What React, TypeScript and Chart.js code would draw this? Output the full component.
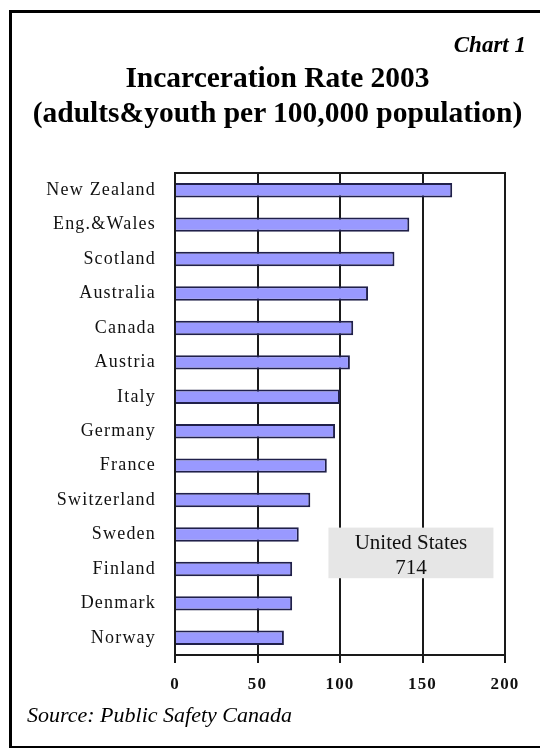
import React, { useEffect, useRef } from "react";
import { Chart, registerables } from "chart.js";

Chart.register(...registerables);

const countries = [
  "New Zealand",
  "Eng.&Wales",
  "Scotland",
  "Australia",
  "Canada",
  "Austria",
  "Italy",
  "Germany",
  "France",
  "Switzerland",
  "Sweden",
  "Finland",
  "Denmark",
  "Norway",
];
const rates = [168, 142, 133, 117, 108, 106, 100, 97, 92, 82, 75, 71, 71, 66];
const xTickValues = [0, 50, 100, 150, 200];

const chartLabel = "Chart 1";
const titleLines = ["Incarceration Rate 2003", "(adults&youth per 100,000 population)"];
const sourceText = "Source: Public Safety Canada";
const noteLabel = "United States";
const noteValue = 714;

const serif = '"Liberation Serif", "Times New Roman", serif';

const framePlugin = {
  id: "frame",
  beforeDatasetsDraw(chart: any) {
    const { ctx, chartArea } = chart;
    ctx.save();
    ctx.strokeStyle = "#1a1a1a";
    ctx.lineWidth = 2;
    ctx.beginPath();
    ctx.moveTo(chartArea.left, chartArea.top);
    ctx.lineTo(chartArea.right, chartArea.top);
    ctx.lineTo(chartArea.right, chartArea.bottom);
    ctx.stroke();
    ctx.restore();
  },
};

const spacingPlugin = {
  id: "spacing",
  beforeDraw(chart: any) {
    chart.ctx.letterSpacing = "1.2px";
  },
};

const notePlugin = {
  id: "note",
  afterDatasetsDraw(chart: any) {
    const { ctx, scales } = chart;
    const x0 = scales.x.getPixelForValue(93);
    const x1 = scales.x.getPixelForValue(193);
    const y0 = scales.y.getPixelForValue(9.8);
    const y1 = scales.y.getPixelForValue(11.27);
    ctx.save();
    ctx.letterSpacing = "0px";
    ctx.fillStyle = "#e6e6e6";
    ctx.fillRect(x0, y0, x1 - x0, y1 - y0);
    ctx.fillStyle = "#111";
    ctx.font = `21px ${serif}`;
    ctx.textAlign = "center";
    ctx.textBaseline = "alphabetic";
    const cx = (x0 + x1) / 2;
    ctx.fillText(noteLabel, cx, y0 + 21);
    ctx.fillText(String(noteValue), cx, y0 + 46);
    ctx.restore();
  },
};

function BarChart() {
  const ref = useRef<HTMLCanvasElement | null>(null);
  useEffect(() => {
    if (!ref.current) return;
    const chart = new Chart(ref.current, {
      type: "bar",
      data: {
        labels: countries,
        datasets: [
          {
            data: rates,
            backgroundColor: "#9999ff",
            borderColor: "#20204a",
            borderWidth: 2,
            barPercentage: 0.42,
            categoryPercentage: 1,
          },
        ],
      },
      options: {
        indexAxis: "y",
        responsive: false,
        animation: false,
        layout: { padding: { top: 173, left: 0, right: 35, bottom: 0 } },
        plugins: {
          legend: { display: false },
          tooltip: { enabled: false },
          title: { display: false },
        },
        scales: {
          x: {
            type: "linear",
            min: 0,
            max: 200,
            afterBuildTicks: (s: any) => {
              s.ticks = xTickValues.map((v) => ({ value: v }));
            },
            afterFit: (s: any) => {
              s.height = 93;
            },
            grid: {
              display: true,
              color: "#1a1a1a",
              lineWidth: 2,
              drawTicks: true,
              tickLength: 8,
              tickColor: "#1a1a1a",
            },
            border: { display: true, color: "#1a1a1a", width: 2 },
            ticks: {
              color: "#111",
              padding: 11,
              font: { family: serif, size: 17, weight: "bold" },
              maxRotation: 0,
            },
          },
          y: {
            type: "category",
            afterFit: (s: any) => {
              s.width = 175;
            },
            grid: { display: false, drawTicks: false },
            border: { display: true, color: "#1a1a1a", width: 2 },
            ticks: {
              color: "#111",
              padding: 19,
              font: { family: serif, size: 18 },
              autoSkip: false,
            },
          },
        },
      },
      plugins: [spacingPlugin, framePlugin, notePlugin],
    });
    return () => chart.destroy();
  }, []);
  return (
    <canvas
      ref={ref}
      width={540}
      height={748}
      style={{ position: "fixed", left: 0, top: 0, width: 540, height: 748 }}
    />
  );
}

export default function App() {
  return (
    <div>
      <div
        style={{
          position: "fixed",
          left: 9,
          top: 10,
          width: 540,
          height: 739,
          border: "3px solid #000",
          boxSizing: "border-box",
        }}
      />
      <div
        style={{
          position: "fixed",
          right: 14,
          top: 34,
          fontFamily: serif,
          fontWeight: "bold",
          fontStyle: "italic",
          fontSize: 23,
          lineHeight: "22px",
          color: "#000",
          whiteSpace: "nowrap",
        }}
      >
        {chartLabel}
      </div>
      <div
        style={{
          position: "fixed",
          left: 9,
          width: 537,
          top: 60,
          textAlign: "center",
          fontFamily: serif,
          fontWeight: "bold",
          fontSize: 29.5,
          lineHeight: "35px",
          color: "#000",
        }}
      >
        {titleLines.map((t) => (
          <div key={t} style={{ whiteSpace: "nowrap" }}>
            {t}
          </div>
        ))}
      </div>
      <BarChart />
      <div
        style={{
          position: "fixed",
          left: 27,
          top: 704,
          fontFamily: serif,
          fontStyle: "italic",
          fontSize: 22,
          lineHeight: "22px",
          color: "#000",
          whiteSpace: "nowrap",
        }}
      >
        {sourceText}
      </div>
    </div>
  );
}
